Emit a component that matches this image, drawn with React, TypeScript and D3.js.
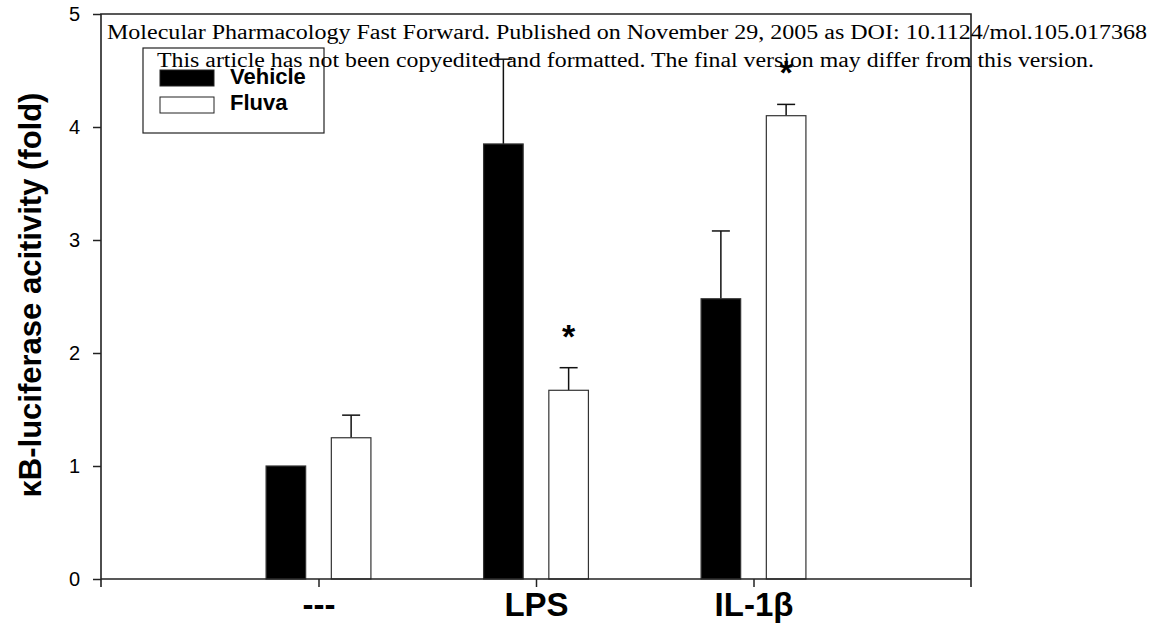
import { useEffect, useRef } from "react";
import * as d3 from "d3";

const W = 1155;
const H = 628;
const MARGIN = { top: 14, right: 184, bottom: 49, left: 101 };

const categories = ["---", "LPS", "IL-1β"];
const series = ["Vehicle", "Fluva"];
const vehicleMeans = [1.0, 3.85, 2.48];
const vehicleErr = [0.0, 0.75, 0.6];
const fluvaMeans = [1.25, 1.67, 4.1];
const fluvaErr = [0.2, 0.2, 0.1];
const significant = [false, true, true];
const yTicks = [0, 1, 2, 3, 4, 5];

const watermark = [
  "Molecular Pharmacology Fast Forward. Published on November 29, 2005 as DOI: 10.1124/mol.105.017368",
  "This article has not been copyedited and formatted. The final version may differ from this version.",
];

const SANS = "Arial, 'Liberation Sans', Helvetica, sans-serif";
const SERIF = "'Times New Roman', 'Liberation Serif', serif";

export default function App() {
  const svgRef = useRef<SVGSVGElement>(null);

  useEffect(() => {
    if (!svgRef.current) return;
    document.body.style.margin = "0";
    const svg = d3.select(svgRef.current);
    svg.selectAll("*").remove();

    const x0 = MARGIN.left;
    const x1 = W - MARGIN.right;
    const y0 = H - MARGIN.bottom;
    const y1 = MARGIN.top;

    // x is numeric like the original plot: categories sit at 1, 2, 3
    const x = d3.scaleLinear().domain([0, 4]).range([x0, x1]);
    const y = d3.scaleLinear().domain([0, 5]).range([y0, y1]);

    const barW = x(0.182) - x(0);
    const offset = x(0.15) - x(0);
    const capW = 18;

    const groups = [
      { name: series[0], means: vehicleMeans, err: vehicleErr, fill: "#000", stroke: "#333", dx: -offset },
      { name: series[1], means: fluvaMeans, err: fluvaErr, fill: "#fff", stroke: "#333", dx: offset },
    ];

    // bars + upward error bars
    groups.forEach((s) => {
      s.means.forEach((v, i) => {
        const cx = x(i + 1) + s.dx;
        const top = y(v + s.err[i]);
        if (s.err[i] > 0) {
          svg.append("line")
            .attr("x1", cx).attr("x2", cx)
            .attr("y1", y(v)).attr("y2", top)
            .attr("stroke", "#111").attr("stroke-width", 1.5);
          svg.append("line")
            .attr("x1", cx - capW / 2).attr("x2", cx + capW / 2)
            .attr("y1", top).attr("y2", top)
            .attr("stroke", "#111").attr("stroke-width", 1.5);
        }
        svg.append("rect")
          .attr("x", cx - barW / 2)
          .attr("y", y(v))
          .attr("width", barW)
          .attr("height", y(0) - y(v))
          .attr("fill", s.fill)
          .attr("stroke", s.stroke)
          .attr("stroke-width", 1.2);
      });
    });

    // asterisks above Fluva bars
    fluvaMeans.forEach((v, i) => {
      if (!significant[i]) return;
      svg.append("text")
        .attr("x", x(i + 1) + offset)
        .attr("y", y(v + fluvaErr[i]) - 20)
        .attr("text-anchor", "middle")
        .attr("font-family", SANS)
        .attr("font-weight", "bold")
        .attr("font-size", 34)
        .text("*");
    });

    // frame
    svg.append("path")
      .attr("d", `M${x0},${y0 + 8}V${y1}H${x1}V${y0 + 8}M${x0},${y0}H${x1}`)
      .attr("fill", "none")
      .attr("stroke", "#222")
      .attr("stroke-width", 1.6);

    // y axis
    svg.append("g")
      .attr("transform", `translate(${x0},0)`)
      .call(d3.axisLeft(y).tickValues(yTicks).tickSize(8).tickPadding(13).tickFormat(d3.format("d")))
      .call((ax) => ax.select(".domain").remove())
      .call((ax) => ax.selectAll("line").attr("stroke", "#222").attr("stroke-width", 1.5))
      .call((ax) => ax.selectAll("text").attr("fill", "#000").attr("font-size", 20).attr("font-family", SANS));

    // x ticks and labels
    svg.append("g")
      .attr("transform", `translate(0,${y0})`)
      .call(d3.axisBottom(x).tickValues([1, 2, 3]).tickSize(8).tickFormat((d) => categories[(d as number) - 1]).tickPadding(6))
      .call((ax) => ax.select(".domain").remove())
      .call((ax) => ax.selectAll("line").attr("stroke", "#222").attr("stroke-width", 1.5))
      .call((ax) => ax.selectAll("text").attr("fill", "#000").attr("font-size", 33).attr("font-weight", "bold").attr("font-family", SANS));

    // y title
    svg.append("text")
      .attr("transform", `translate(41,295) rotate(-90)`)
      .attr("text-anchor", "middle")
      .attr("font-family", SANS)
      .attr("font-weight", "bold")
      .attr("font-size", 31)
      .text("κB-luciferase acitivity (fold)");

    // legend
    const lg = svg.append("g").attr("transform", "translate(143,48)");
    lg.append("rect").attr("width", 181).attr("height", 85).attr("fill", "#fff").attr("stroke", "#222").attr("stroke-width", 1.2);
    groups.forEach((s, i) => {
      lg.append("rect")
        .attr("x", 17).attr("y", 22 + i * 27)
        .attr("width", 54).attr("height", 16)
        .attr("fill", s.fill).attr("stroke", "#222").attr("stroke-width", 1);
      lg.append("text")
        .attr("x", 87).attr("y", 36 + i * 26)
        .attr("font-family", SANS)
        .attr("font-weight", "bold")
        .attr("font-size", 22)
        .text(s.name);
    });

    // journal watermark on top
    const wm = [
      { x: 107, y: 39, len: 1040 },
      { x: 157, y: 67, len: 937 },
    ];
    watermark.forEach((t, i) => {
      svg.append("text")
        .attr("x", wm[i].x)
        .attr("y", wm[i].y)
        .attr("font-family", SERIF)
        .attr("font-size", 20)
        .attr("textLength", wm[i].len)
        .attr("lengthAdjust", "spacingAndGlyphs")
        .text(t);
    });
  }, []);

  return (
    <div style={{ position: "absolute", left: 0, top: 0, background: "#fff" }}>
      <svg ref={svgRef} width={W} height={H} />
    </div>
  );
}
